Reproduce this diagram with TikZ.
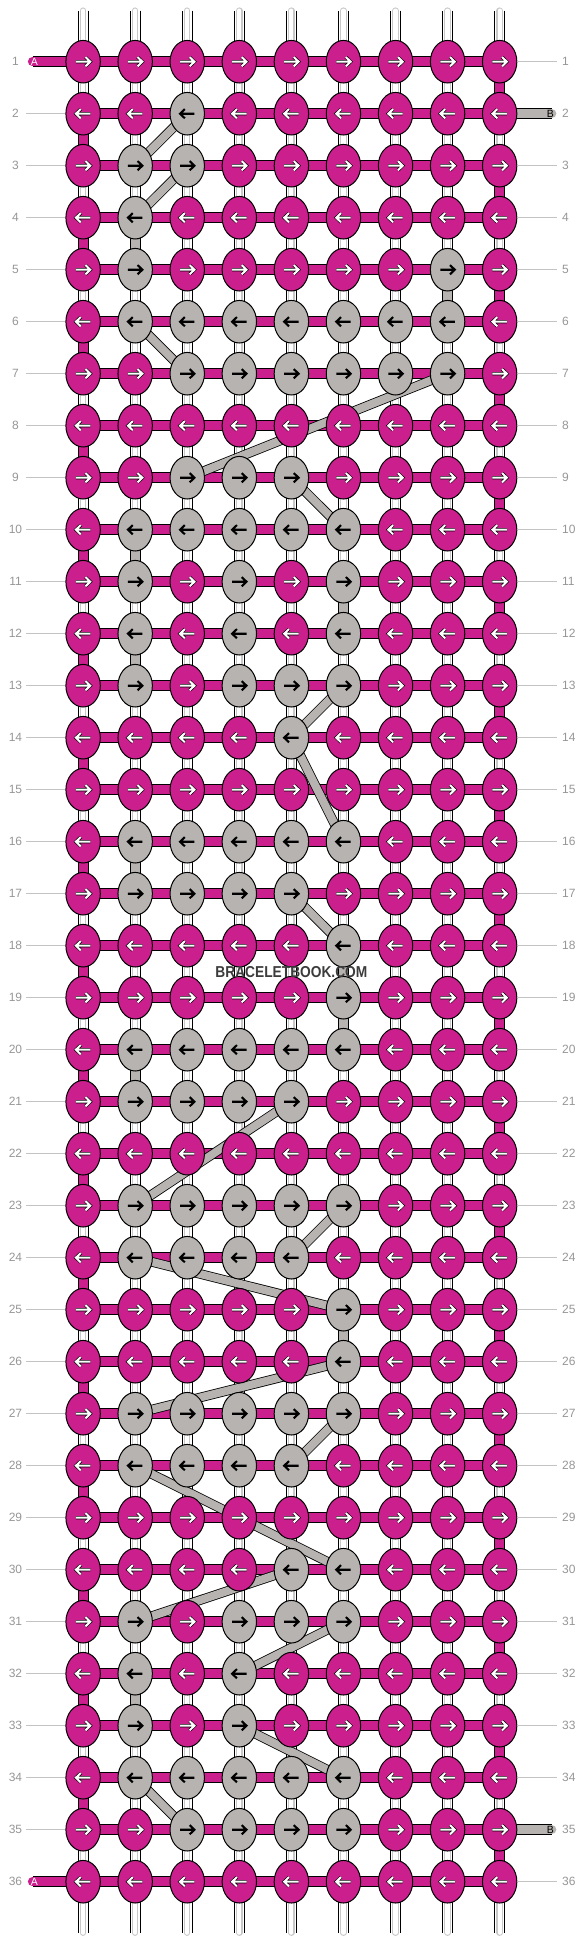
\documentclass[tikz,border=0pt]{standalone}
\usepackage{fontspec}
\setsansfont{Liberation Sans}
\newfontfamily\logofont{Liberation Sans}[FakeStretch=0.87]
\usepackage{tikz}
\usetikzlibrary{shapes.geometric}
\pgfdeclarelayer{background}
\pgfdeclarelayer{foreground}
\pgfsetlayers{background,main,foreground}

\definecolor{knotpink}{RGB}{203,31,141}
\definecolor{knotgrey}{RGB}{183,179,177}
\definecolor{numgrey}{RGB}{150,150,150}
\definecolor{guidegrey}{RGB}{195,195,195}
\definecolor{warpgrey}{RGB}{200,200,200}
\definecolor{logogrey}{RGB}{60,60,60}

\begin{document}
\begin{tikzpicture}[x=1pt, y=-1pt,
					knot/.style={ellipse, draw=black, line width=1pt, minimum width=34.4pt, minimum height=42.6pt, inner sep=0pt},
					knot0/.style={knot, fill=knotpink},
					knot1/.style={knot, fill=knotgrey},
					arrow0/.style={white, line width=2pt, preaction={draw=black, line width=3.2pt}},
					arrow1/.style={black, line width=2.1pt},
					warp/.style={white, line width=9.2pt, preaction={draw=black, line width=11.2pt}, postaction={draw=warpgrey, line width=6.4pt}, postaction={draw=white, line width=4.2pt}},
					pinkstrand/.style={knotpink, line width=9.2pt, preaction={draw=black, line width=11.2pt}},
					greystrand/.style={knotgrey, line width=9.2pt, preaction={draw=black, line width=11.2pt}},
					rowbar/.style={knotpink, line width=9.3pt, preaction={draw=black, line width=11.3pt}},
					greybar/.style={knotgrey, line width=9.3pt, preaction={draw=black, line width=11.3pt}},
					diagbar/.style={knotgrey, line width=8pt, preaction={draw=black, line width=9.6pt}},
					guide/.style={guidegrey, line width=1pt},
					rownum/.style={text=numgrey, font=\sffamily\fontsize{12}{14}\selectfont, inner sep=0pt},
					tailtext/.style={font=\sffamily\fontsize{10.5}{12}\selectfont, inner sep=0pt},
					logo/.style={text=logogrey, font=\logofont\bfseries\fontsize{15.8}{18}\selectfont, inner sep=0pt},
					]
					\useasboundingbox (0,0) rectangle (584,1944);
					
					%Knots
					\foreach \r/\row in {
						1/{0,0,0,0,0,0,0,0,0}, 2/{0,0,1,0,0,0,0,0,0}, 3/{0,1,1,0,0,0,0,0,0},
						4/{0,1,0,0,0,0,0,0,0}, 5/{0,1,0,0,0,0,0,1,0}, 6/{0,1,1,1,1,1,1,1,0},
						7/{0,0,1,1,1,1,1,1,0}, 8/{0,0,0,0,0,0,0,0,0}, 9/{0,0,1,1,1,0,0,0,0},
						10/{0,1,1,1,1,1,0,0,0}, 11/{0,1,0,1,0,1,0,0,0}, 12/{0,1,0,1,0,1,0,0,0},
						13/{0,1,0,1,1,1,0,0,0}, 14/{0,0,0,0,1,0,0,0,0}, 15/{0,0,0,0,0,0,0,0,0},
						16/{0,1,1,1,1,1,0,0,0}, 17/{0,1,1,1,1,0,0,0,0}, 18/{0,0,0,0,0,1,0,0,0},
						19/{0,0,0,0,0,1,0,0,0}, 20/{0,1,1,1,1,1,0,0,0}, 21/{0,1,1,1,1,0,0,0,0},
						22/{0,0,0,0,0,0,0,0,0}, 23/{0,1,1,1,1,1,0,0,0}, 24/{0,1,1,1,1,0,0,0,0},
						25/{0,0,0,0,0,1,0,0,0}, 26/{0,0,0,0,0,1,0,0,0}, 27/{0,1,1,1,1,1,0,0,0},
						28/{0,1,1,1,1,0,0,0,0}, 29/{0,0,0,0,0,0,0,0,0}, 30/{0,0,0,0,1,1,0,0,0},
						31/{0,1,0,1,1,1,0,0,0}, 32/{0,1,0,1,0,0,0,0,0}, 33/{0,1,0,1,0,0,0,0,0},
						34/{0,1,1,1,1,1,0,0,0}, 35/{0,0,1,1,1,1,0,0,0}, 36/{0,0,0,0,0,0,0,0,0}}{
						\ifodd\r \def\dir{1}\else \def\dir{-1}\fi
						\foreach \g [count=\c] in \row {
							\node[knot\g] (k-\r-\c) at ({83.1+52.07*(\c-1)},{61.7+52*(\r-1)}) {};
							\draw[arrow\g] (k-\r-\c.center) ++(-7.2*\dir,0) -- ++(14.4*\dir,0) ++(-4.8*\dir,-4.6) -- ++(4.8*\dir,4.6) -- ++(-4.8*\dir,4.6);
						}
					}
					
					%Row numbers
					\foreach \r in {1,...,36}{
						\node[rownum] (ln-\r) at (15.5,{61.7+52*(\r-1)}) {\r};
						\node[rownum, anchor=west] (rn-\r) at (562,{61.7+52*(\r-1)}) {\r};
					}
					\foreach \r in {2,...,35}{
						\coordinate (gl-\r) at (26,{61.7+52*(\r-1)});
						\draw[guide] (gl-\r) -- (k-\r-1.west);
					}
					\foreach \r in {1,3,4,...,34,36}{
						\coordinate (gr-\r) at (557,{61.7+52*(\r-1)});
						\draw[guide] (k-\r-9.east) -- (gr-\r);
					}
					
					%Tails
					\node[tailtext, text=white] (a-1) at (34.3,61.7) {A};
					\node[tailtext, text=white] (a-36) at (34.3,1881.7) {A};
					\node[tailtext, text=black] (b-2) at (550.3,113.7) {B};
					\node[tailtext, text=black] (b-35) at (550.3,1829.7) {B};
					
					\begin{pgfonlayer}{foreground}
					\node[logo] (logo) at (291.4,971.7) {BRACELETBOOK.COM};
					\end{pgfonlayer}
					
					\begin{pgfonlayer}{background}
					%Strands
					\foreach \c in {1,...,9}{
						\coordinate (wt-\c) at ({83.1+52.07*(\c-1)},10.6);
						\coordinate (wb-\c) at ({83.1+52.07*(\c-1)},1932.7);
						\draw[warp, line cap=round] (wt-\c) -- (k-1-\c.center);
						\draw[warp, line cap=round] (k-36-\c.center) -- (wb-\c);
						\foreach \r in {1,...,35}{
							\pgfmathtruncatemacro\nr{\r+1}
							\draw[warp] (k-\r-\c.center) -- (k-\nr-\c.center);
						}
					}
					\foreach \r in {1,3,...,35}{
						\pgfmathtruncatemacro\nr{\r+1}
						\draw[pinkstrand] (k-\r-9.center) -- (k-\nr-9.center);
					}
					\foreach \r in {2,4,...,34}{
						\pgfmathtruncatemacro\nr{\r+1}
						\draw[pinkstrand] (k-\r-1.center) -- (k-\nr-1.center);
					}
					\foreach \r/\c in {4/2,5/8,10/2,11/6,12/2,16/2,18/6,19/6,20/2,25/6,32/2}{
						\pgfmathtruncatemacro\nr{\r+1}
						\draw[greystrand] (k-\r-\c.center) -- (k-\nr-\c.center);
					}
					
					%Lines
					\foreach \r in {1,...,36}{
						\foreach \c in {1,...,8}{
							\pgfmathtruncatemacro\nc{\c+1}
							\draw[rowbar] (k-\r-\c.center) -- (k-\r-\nc.center);
						}
					}
					\coordinate (ta-1) at (32.5,61.7);
					\coordinate (ta-36) at (32.5,1881.7);
					\coordinate (tb-2) at (551.7,113.7);
					\coordinate (tb-35) at (551.7,1829.7);
					\draw[rowbar, line cap=round] (ta-1) -- (k-1-1.center);
					\draw[rowbar, line cap=round] (ta-36) -- (k-36-1.center);
					\draw[greybar, line cap=round] (k-2-9.center) -- (tb-2);
					\draw[greybar, line cap=round] (k-35-9.center) -- (tb-35);
					
					\foreach \ra/\ca/\rb/\cb in {2/3/3/2, 3/3/4/2, 6/2/7/3, 7/8/9/3, 9/5/10/6, 13/6/14/5,
						14/5/16/6, 17/5/18/6, 21/5/23/2, 23/6/24/5, 24/2/25/6, 26/6/27/2, 27/6/28/5,
						28/2/30/6, 30/5/31/2, 31/6/32/4, 33/4/34/6, 34/2/35/3}
						\draw[diagbar] (k-\ra-\ca.center) -- (k-\rb-\cb.center);
					
					\end{pgfonlayer}
				\end{tikzpicture}
\end{document}
